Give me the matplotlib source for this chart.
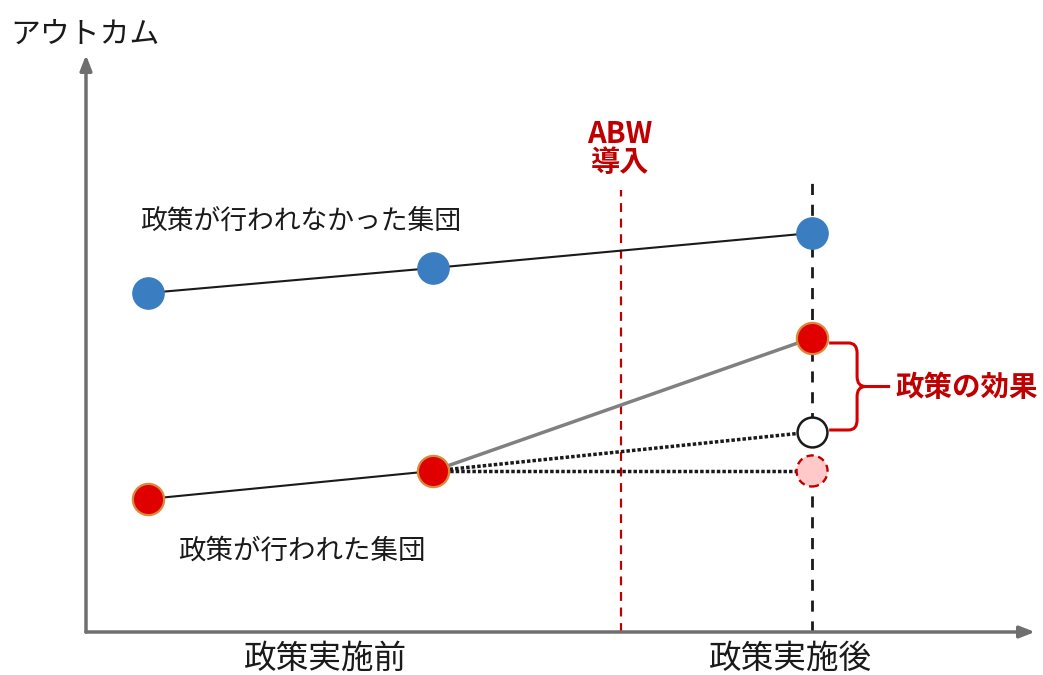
import matplotlib.pyplot as plt
from matplotlib.path import Path
from matplotlib.patches import PathPatch, Ellipse

plt.rcParams['font.family'] = ['Noto Sans CJK JP', 'DejaVu Sans']

# time points (pre 1, pre 2, post) and policy introduction
periods = [1.0, 2.0, 3.33]
abw_time = 2.66

# outcome values
control = [3.39, 3.64, 3.99]        # 政策が行われなかった集団
treated = [1.33, 1.61, 2.94]        # 政策が行われた集団
counterfactual = 2.0                # parallel trend assumption
no_change = 1.61                    # flat from pre 2

W, H = 1043, 675
PX_X, PX_Y = 285, 100   # pixels per period / per outcome unit
fig = plt.figure(figsize=(W / 100, H / 100), dpi=100)
ax = fig.add_axes([0, 0, 1, 1])
# origin at pixel (148, 632)
ax.set_xlim(1 - 148 / PX_X, 1 + (W - 148) / PX_X)
ax.set_ylim((632 - H) / PX_Y, 632 / PX_Y)
ax.axis('off')

axis_x0 = 1 - 62 / PX_X
axis_x1 = 1 + (1035 - 148) / PX_X
axis_y1 = (632 - 55) / PX_Y
axis_col = '#6f6f6f'
ax.annotate('', xy=(axis_x1, 0), xytext=(axis_x0, 0),
            arrowprops=dict(arrowstyle='-|>,head_length=0.9,head_width=0.35', color=axis_col, lw=2.5,
                            shrinkA=0, shrinkB=0))
ax.annotate('', xy=(axis_x0, axis_y1), xytext=(axis_x0, 0),
            arrowprops=dict(arrowstyle='-|>,head_length=0.9,head_width=0.35', color=axis_col, lw=2.5,
                            shrinkA=0, shrinkB=0))

# vertical reference lines
ax.plot([abw_time, abw_time], [0, 4.42], color='#c00000', lw=1.6, ls=(0, (4, 3)), zorder=1)
ax.plot([periods[2], periods[2]], [0, 4.49], color='#1a1a1a', lw=2, ls=(0, (4, 3.5)), zorder=1)

# lines
ax.plot(periods, control, color='#1a1a1a', lw=1.5, zorder=2)
ax.plot(periods[:2], treated[:2], color='#1a1a1a', lw=1.5, zorder=2)
ax.plot(periods[1:], treated[1:], color='#808080', lw=2.5, zorder=2)
ax.plot([periods[1], periods[2]], [treated[1], counterfactual], color='#1a1a1a', lw=2.5,
        ls=(0, (1, 0.6)), zorder=2)
ax.plot([periods[1], periods[2]], [treated[1], no_change], color='#1a1a1a', lw=2.5,
        ls=(0, (1, 0.6)), zorder=2)

# markers
ms = 22.5
ax.plot(periods, control, ls='none', marker='o', ms=ms, mfc='#3a7dc0', mec='#3a7dc0', zorder=4)
ax.plot(periods, treated, ls='none', marker='o', ms=ms, mfc='#e00000', mec='#d98a3a', mew=1.6, zorder=4)
ax.plot([periods[2]], [counterfactual], ls='none', marker='o', ms=ms - 1, mfc='white', mec='#1a1a1a',
        mew=1.8, zorder=4)
# pink marker with a dashed red edge
d = 31
ax.add_patch(Ellipse((periods[2], no_change), d / PX_X, d / PX_Y, fc='#ffc9c9', ec='#c00000',
                     lw=1.7, ls=(0, (3, 2)), zorder=4))

# bracket for 政策の効果
x0 = periods[2] + 0.06
xb = periods[2] + 0.158
xt = periods[2] + 0.274
top, bot = treated[2] - 0.05, counterfactual + 0.02
mid = (top + bot) / 2
r = 0.1
verts = [(x0, top), (xb - 0.03, top), (xb, top), (xb, top - r),
         (xb, mid + r), (xb, mid), (xb + 0.03, mid), (xt, mid),
         (xb + 0.03, mid), (xb, mid), (xb, mid - r),
         (xb, bot + r), (xb, bot), (xb - 0.03, bot), (x0, bot)]
codes = [Path.MOVETO, Path.LINETO, Path.CURVE3, Path.CURVE3,
         Path.LINETO, Path.CURVE3, Path.CURVE3, Path.LINETO,
         Path.MOVETO, Path.CURVE3, Path.CURVE3,
         Path.LINETO, Path.CURVE3, Path.CURVE3, Path.LINETO]
ax.add_patch(PathPatch(Path(verts, codes), fill=False, ec='#d40000', lw=2.2, zorder=3))


def px(x, y):
    return x / W, 1 - y / H


txt = '#1a1a1a'
red = '#c00000'
fig.text(*px(10, 34), 'アウトカム', fontsize=21.5, color=txt, va='center', ha='left')
fig.text(*px(140, 221), '政策が行われなかった集団', fontsize=19.3, color=txt, va='center', ha='left')
fig.text(*px(178, 551), '政策が行われた集団', fontsize=19.8, color=txt, va='center', ha='left')
fig.text(*px(326, 659), '政策実施前', fontsize=23.5, color=txt, va='center', ha='center')
fig.text(*px(791, 659), '政策実施後', fontsize=23.5, color=txt, va='center', ha='center')
fig.text(*px(620, 134), 'ABW', fontsize=21, color=red, va='center', ha='center', fontweight='bold')
fig.text(*px(620, 162), '導入', fontsize=21, color=red, va='center', ha='center', fontweight='bold')
fig.text(*px(895, 388), '政策の効果', fontsize=20.5, color=red, va='center', ha='left', fontweight='bold')

fig.savefig('out.png', dpi=100, facecolor='white')
